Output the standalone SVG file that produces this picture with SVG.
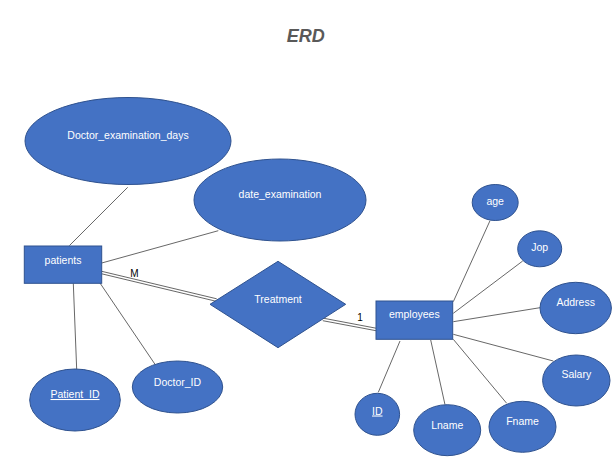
<svg xmlns="http://www.w3.org/2000/svg" width="612" height="473" viewBox="0 0 612 473">
<style>
.n{fill:#4472C4;stroke:#2F528F;stroke-width:1}
.t{fill:#fff;font-family:"Liberation Sans",Arial,sans-serif;font-size:10.5px;text-anchor:middle}
.c line{stroke:#404040;stroke-width:0.8}
.lbl{fill:#000;font-family:"Liberation Sans",Arial,sans-serif;font-size:10px;text-anchor:middle}
</style>
<rect width="612" height="473" fill="#fff"/>
<text x="305.7" y="41.7" font-family="'Liberation Sans',Arial,sans-serif" font-size="18" font-weight="bold" font-style="italic" fill="#595959" text-anchor="middle">ERD</text>
<g class="c" id="connectors">
<line x1="127.7" y1="187.3" x2="69.3" y2="245.7"/>
<line x1="218.3" y1="230.7" x2="101.7" y2="263"/>
<line x1="101.7" y1="271.3" x2="216.7" y2="298.8"/>
<line x1="101.7" y1="273.8" x2="216.2" y2="301.3"/>
<line x1="323.3" y1="318.2" x2="376" y2="328.2"/>
<line x1="322.8" y1="320.7" x2="376" y2="330.7"/>
<line x1="73.3" y1="283.3" x2="76.7" y2="369.7"/>
<line x1="99.3" y1="282" x2="155" y2="364.3"/>
<line x1="453.3" y1="301.7" x2="490" y2="220.7"/>
<line x1="453.3" y1="313.3" x2="522.7" y2="261"/>
<line x1="453.3" y1="321.7" x2="540" y2="307.7"/>
<line x1="453.3" y1="334.3" x2="553.3" y2="361"/>
<line x1="453.3" y1="339.3" x2="506.7" y2="403.3"/>
<line x1="430.7" y1="340" x2="445" y2="404.7"/>
<line x1="400" y1="341" x2="378.3" y2="392.3"/>
<text class="lbl" x="134.3" y="277">M</text>
<text class="lbl" x="360" y="320.5">1</text>
</g>
<g id="Doctor_examination_days"><ellipse class="n" cx="128" cy="141" rx="103" ry="43.5"/><text class="t" x="128" y="139">Doctor_examination_days</text></g>
<g id="date_examination"><ellipse class="n" cx="280" cy="200" rx="86" ry="41"/><text class="t" x="280" y="198">date_examination</text></g>
<g id="patients"><rect class="n" x="24.3" y="246" width="77.4" height="37.3"/><text class="t" x="63" y="264">patients</text></g>
<g id="Treatment"><polygon class="n" points="210,304.3 278,261.3 345.7,304.3 278,347.7"/><text class="t" x="278" y="302.5">Treatment</text></g>
<g id="employees"><rect class="n" x="376" y="301" width="76.7" height="38.3"/><text class="t" x="414.3" y="318">employees</text></g>
<g id="Patient_ID"><ellipse class="n" cx="75" cy="400" rx="45.3" ry="31"/><text class="t" x="75" y="398" text-decoration="underline">Patient_ID</text></g>
<g id="Doctor_ID"><ellipse class="n" cx="177.5" cy="387" rx="45.2" ry="26"/><text class="t" x="177.5" y="385.5">Doctor_ID</text></g>
<g id="age"><ellipse class="n" cx="495.2" cy="202.5" rx="23" ry="18"/><text class="t" x="495.2" y="204.5">age</text></g>
<g id="Jop"><ellipse class="n" cx="539.7" cy="248.8" rx="22" ry="18"/><text class="t" x="539.7" y="250.5">Jop</text></g>
<g id="Address"><ellipse class="n" cx="575.7" cy="308" rx="35.7" ry="25.7"/><text class="t" x="575.7" y="305.5">Address</text></g>
<g id="Salary"><ellipse class="n" cx="576.3" cy="380.5" rx="33.7" ry="25.5"/><text class="t" x="576.3" y="378">Salary</text></g>
<g id="ID"><ellipse class="n" cx="377.3" cy="414.3" rx="22.3" ry="21"/><text class="t" x="377.3" y="414.5" text-decoration="underline">ID</text></g>
<g id="Lname"><ellipse class="n" cx="447.2" cy="430.2" rx="33.5" ry="25.5"/><text class="t" x="447.2" y="428.8">Lname</text></g>
<g id="Fname"><ellipse class="n" cx="522.5" cy="426.8" rx="33.5" ry="25.5"/><text class="t" x="522.5" y="424.5">Fname</text></g>
</svg>
